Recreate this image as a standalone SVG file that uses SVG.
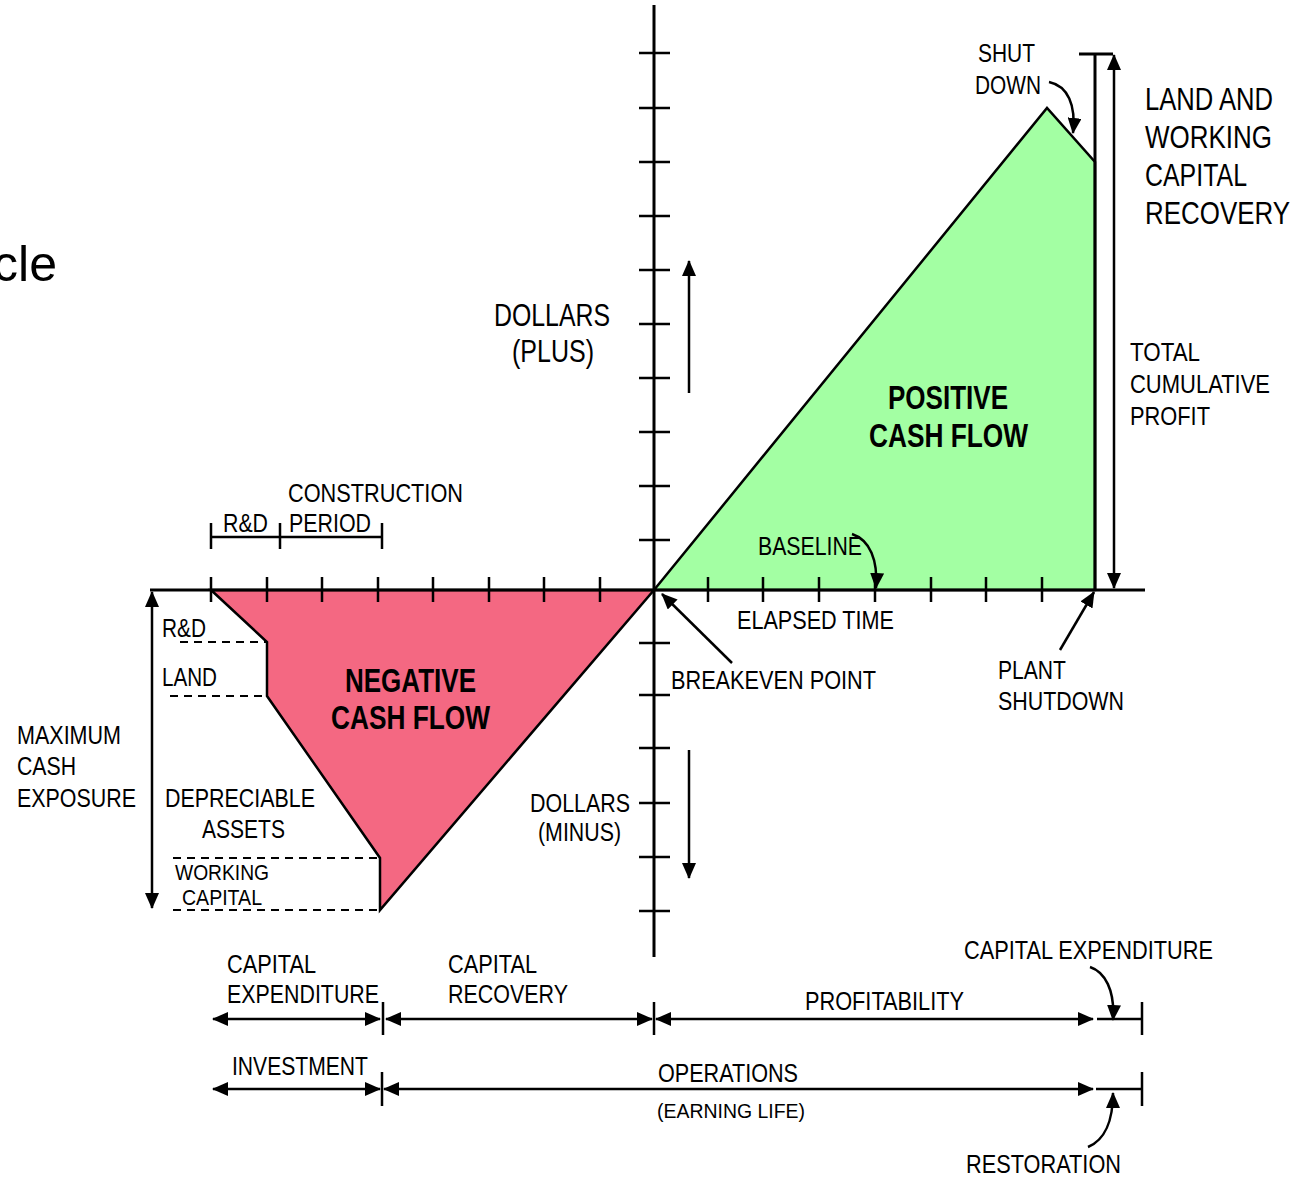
<svg xmlns="http://www.w3.org/2000/svg" width="1298" height="1179" viewBox="0 0 1298 1179">
  <style>
    .t { font-family: "Liberation Sans", Arial, sans-serif; fill: #000; }
    .s25 { font-size: 25px; }
    .s22 { font-size: 22px; }
    .s21 { font-size: 21px; }
    .s31 { font-size: 31px; }
    .s32 { font-size: 32px; }
    .b { font-weight: bold; font-size: 34px; }
    .ax { stroke: #000; stroke-width: 3; fill: none; }
    .tk { stroke: #000; stroke-width: 2.5; fill: none; }
    .ln { stroke: #000; stroke-width: 2.5; fill: none; }
    .dash { stroke: #000; stroke-width: 2; fill: none; stroke-dasharray: 8 6; }
    .arr { stroke: #000; stroke-width: 2.5; fill: none; marker-end: url(#ah); }
    .arr2 { stroke: #000; stroke-width: 2.5; fill: none; marker-start: url(#ah); marker-end: url(#ah); }
  </style>
  <defs>
    <marker id="ah" markerUnits="userSpaceOnUse" markerWidth="16" markerHeight="14" refX="15" refY="7" orient="auto-start-reverse">
      <path d="M0,0 L16,7 L0,14 z" fill="#000"/>
    </marker>
  </defs>
  <rect width="1298" height="1179" fill="#fff"/>

  <!-- partial title -->
  <text class="t" x="57" y="281" font-size="50" text-anchor="end">cle</text>

  <!-- cash flow areas -->
  <g id="negative-area">
    <polygon points="211,590 267,642 267,696 380,858 380,910 654,590" fill="#F46882" stroke="#000" stroke-width="2.5" stroke-linejoin="miter"/>
    <text class="t b" x="345" y="692" textLength="131" lengthAdjust="spacingAndGlyphs">NEGATIVE</text>
    <text class="t b" x="331" y="729" textLength="159" lengthAdjust="spacingAndGlyphs">CASH FLOW</text>
  </g>
  <g id="positive-area">
    <polygon points="654,590 1047,108 1095,162 1095,590" fill="#A3FFA3" stroke="#000" stroke-width="2.5"/>
    <text class="t b" x="888" y="409" textLength="120" lengthAdjust="spacingAndGlyphs">POSITIVE</text>
    <text class="t b" x="869" y="447" textLength="159" lengthAdjust="spacingAndGlyphs">CASH FLOW</text>
  </g>

  <!-- axes with ticks -->
  <g id="axes">
    <line class="ax" x1="654" y1="5" x2="654" y2="957"/>
    <line class="ax" x1="150" y1="590" x2="1145" y2="590"/>
    <line class="ax" x1="1095" y1="54" x2="1095" y2="590"/>
    <line class="ax" x1="1079" y1="54" x2="1113" y2="54"/>
    <g class="tk">
      <path d="M639,53H670 M639,108H670 M639,162H670 M639,216H670 M639,270H670 M639,324H670 M639,378H670 M639,432H670 M639,486H670 M639,540H670 M639,643H670 M639,695H670 M639,748H670 M639,803H670 M639,857H670 M639,911H670"/>
      <path d="M211,577V602 M267,577V602 M322,577V602 M378,577V602 M433,577V602 M489,577V602 M544,577V602 M600,577V602 M708,577V602 M763,577V602 M819,577V602 M875,577V602 M931,577V602 M986,577V602 M1042,577V602"/>
    </g>
  </g>

  <!-- axis labels -->
  <g id="dollars-plus">
    <text class="t s31" x="494" y="326" textLength="116" lengthAdjust="spacingAndGlyphs">DOLLARS</text>
    <text class="t s31" x="512" y="362" textLength="82" lengthAdjust="spacingAndGlyphs">(PLUS)</text>
  </g>
  <g id="dollars-minus">
    <text class="t s25" x="530" y="812" textLength="100" lengthAdjust="spacingAndGlyphs">DOLLARS</text>
    <text class="t s25" x="538" y="841" textLength="83" lengthAdjust="spacingAndGlyphs">(MINUS)</text>
  </g>
  <g id="elapsed-time">
    <text class="t s25" x="737" y="629" textLength="157" lengthAdjust="spacingAndGlyphs">ELAPSED TIME</text>
  </g>
  <g id="baseline">
    <text class="t s25" x="758" y="555" textLength="104" lengthAdjust="spacingAndGlyphs">BASELINE</text>
  </g>
  <g id="breakeven">
    <text class="t s25" x="671" y="689" textLength="205" lengthAdjust="spacingAndGlyphs">BREAKEVEN POINT</text>
  </g>
  <g id="plant-shutdown">
    <text class="t s25" x="998" y="679" textLength="68" lengthAdjust="spacingAndGlyphs">PLANT</text>
    <text class="t s25" x="998" y="710" textLength="126" lengthAdjust="spacingAndGlyphs">SHUTDOWN</text>
  </g>
  <g id="shut-down">
    <text class="t s25" x="978" y="62" textLength="57" lengthAdjust="spacingAndGlyphs">SHUT</text>
    <text class="t s25" x="975" y="94" textLength="66" lengthAdjust="spacingAndGlyphs">DOWN</text>
  </g>
  <g id="land-wc-recovery">
    <text class="t s32" x="1145" y="110" textLength="128" lengthAdjust="spacingAndGlyphs">LAND AND</text>
    <text class="t s32" x="1145" y="148" textLength="127" lengthAdjust="spacingAndGlyphs">WORKING</text>
    <text class="t s32" x="1145" y="186" textLength="102" lengthAdjust="spacingAndGlyphs">CAPITAL</text>
    <text class="t s32" x="1145" y="224" textLength="145" lengthAdjust="spacingAndGlyphs">RECOVERY</text>
  </g>
  <g id="total-profit">
    <text class="t s25" x="1130" y="361" textLength="70" lengthAdjust="spacingAndGlyphs">TOTAL</text>
    <text class="t s25" x="1130" y="393" textLength="140" lengthAdjust="spacingAndGlyphs">CUMULATIVE</text>
    <text class="t s25" x="1130" y="425" textLength="80" lengthAdjust="spacingAndGlyphs">PROFIT</text>
  </g>

  <!-- R&D / construction bracket -->
  <g id="periods">
    <path class="ln" d="M211,537H382 M211,523V549 M280,523V549 M382,523V549"/>
    <text class="t s25" x="288" y="502" textLength="175" lengthAdjust="spacingAndGlyphs">CONSTRUCTION</text>
    <text class="t s25" x="223" y="532" textLength="45" lengthAdjust="spacingAndGlyphs">R&amp;D</text>
    <text class="t s25" x="289" y="532" textLength="82" lengthAdjust="spacingAndGlyphs">PERIOD</text>
  </g>

  <!-- investment breakdown -->
  <g id="breakdown">
    <path class="dash" d="M180,642H267 M170,696H267 M173,858H380 M173,910H380"/>
    <text class="t s25" x="162" y="637" textLength="44" lengthAdjust="spacingAndGlyphs">R&amp;D</text>
    <text class="t s25" x="162" y="686" textLength="55" lengthAdjust="spacingAndGlyphs">LAND</text>
    <text class="t s25" x="165" y="807" textLength="150" lengthAdjust="spacingAndGlyphs">DEPRECIABLE</text>
    <text class="t s25" x="202" y="838" textLength="83" lengthAdjust="spacingAndGlyphs">ASSETS</text>
    <text class="t s22" x="175" y="880" textLength="94" lengthAdjust="spacingAndGlyphs">WORKING</text>
    <text class="t s22" x="182" y="905" textLength="80" lengthAdjust="spacingAndGlyphs">CAPITAL</text>
  </g>
  <g id="max-exposure">
    <text class="t s25" x="17" y="744" textLength="104" lengthAdjust="spacingAndGlyphs">MAXIMUM</text>
    <text class="t s25" x="17" y="775" textLength="59" lengthAdjust="spacingAndGlyphs">CASH</text>
    <text class="t s25" x="17" y="807" textLength="119" lengthAdjust="spacingAndGlyphs">EXPOSURE</text>
  </g>

  <!-- timeline labels -->
  <g id="timeline-labels">
    <text class="t s25" x="227" y="973" textLength="89" lengthAdjust="spacingAndGlyphs">CAPITAL</text>
    <text class="t s25" x="227" y="1003" textLength="152" lengthAdjust="spacingAndGlyphs">EXPENDITURE</text>
    <text class="t s25" x="448" y="973" textLength="89" lengthAdjust="spacingAndGlyphs">CAPITAL</text>
    <text class="t s25" x="448" y="1003" textLength="120" lengthAdjust="spacingAndGlyphs">RECOVERY</text>
    <text class="t s25" x="805" y="1010" textLength="159" lengthAdjust="spacingAndGlyphs">PROFITABILITY</text>
    <text class="t s25" x="964" y="959" textLength="249" lengthAdjust="spacingAndGlyphs">CAPITAL EXPENDITURE</text>
    <text class="t s25" x="232" y="1075" textLength="136" lengthAdjust="spacingAndGlyphs">INVESTMENT</text>
    <text class="t s25" x="658" y="1082" textLength="140" lengthAdjust="spacingAndGlyphs">OPERATIONS</text>
    <text class="t s21" x="657" y="1118" textLength="148" lengthAdjust="spacingAndGlyphs">(EARNING LIFE)</text>
    <text class="t s25" x="966" y="1173" textLength="155" lengthAdjust="spacingAndGlyphs">RESTORATION</text>
  </g>

  <!-- connectors -->
  <g id="connectors">
    <path class="arr" d="M689,393 L689,261"/>
    <path class="arr" d="M689,750 L689,878"/>
    <path class="arr2" d="M152,592 L152,908"/>
    <path class="arr2" d="M1114,55 L1114,588"/>
    <path class="arr" d="M1049,82 C1068,86 1076,105 1073,133"/>
    <path class="arr" d="M852,534 C870,540 878,560 876,588"/>
    <path class="arr" d="M732,663 L662,594"/>
    <path class="arr" d="M1060,650 L1094,592"/>

    <!-- row 1 -->
    <path class="arr2" d="M213,1019 L380,1019"/>
    <path class="arr2" d="M386,1019 L652,1019"/>
    <path class="arr2" d="M656,1019 L1093,1019"/>
    <path class="ln" d="M1097,1019H1142 M383,1002V1035 M654,1002V1035 M1142,1002V1035"/>
    <path class="arr" d="M1090,967 C1105,972 1115,990 1113,1020"/>

    <!-- row 2 -->
    <path class="arr2" d="M213,1089 L380,1089"/>
    <path class="arr2" d="M384,1089 L1093,1089"/>
    <path class="ln" d="M1096,1089H1142 M382,1072V1106 M1142,1072V1106"/>
    <path class="arr" d="M1088,1147 C1105,1140 1113,1120 1113,1093"/>
  </g>
</svg>
